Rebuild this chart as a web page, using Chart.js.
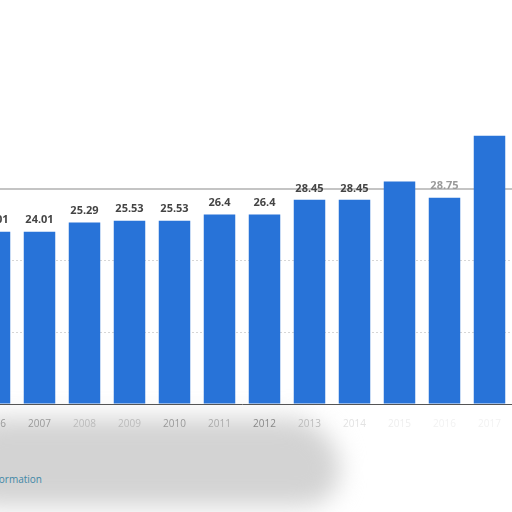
<!DOCTYPE html>
<html>
<head>
<meta charset="utf-8">
<script src="https://cdn.jsdelivr.net/npm/chart.js@4"></script>
<style>
  html, body { margin: 0; padding: 0; background: #fff; overflow: hidden; }
  body { width: 512px; height: 512px; position: relative; }
  #wrap { position: absolute; left: -28px; top: 0; width: 540px; height: 512px; }
  #smudge { position: absolute; left: -30px; top: 418px; width: 370px; height: 88px;
    background: #d3d3d3; border-radius: 30px 60px 40px 20px; filter: blur(12px); }
  #more { position: absolute; right: 470px; top: 472px; white-space: nowrap;
    font: 10px "Open Sans", sans-serif; color: #3f87a6; }
</style>
</head>
<body>
<div id="smudge"></div>
<div id="more">Additional Information</div>
<div id="wrap"><canvas id="priceChart"></canvas></div>
<script>
const years = ['2006', '2007', '2008', '2009', '2010', '2011', '2012', '2013', '2014', '2015', '2016', '2017'];
const prices = [24.01, 24.01, 25.29, 25.53, 25.53, 26.4, 26.4, 28.45, 28.45, 31.0, 28.75, 37.4];
// labels in the picture: 2015 hidden, 2017 smudged out
const valueLabels = ['24.01', '24.01', '25.29', '25.53', '25.53', '26.4', '26.4', '28.45', '28.45', '', '28.75', ''];
const tickColors = ['#999', '#999', '#bbb', '#bbb', '#999', '#aaa', '#888', '#bbb', '#e2e2e2', '#eee', '#f2f2f2', '#f2f2f2'];

const barLabels = {
  id: 'barLabels',
  afterDatasetsDraw(chart) {
    const ctx = chart.ctx;
    const meta = chart.getDatasetMeta(0);
    ctx.save();
    ctx.font = 'bold 11px "Open Sans", sans-serif';
    ctx.textAlign = 'center';
    ctx.textBaseline = 'bottom';
    meta.data.forEach((bar, i) => {
      ctx.fillStyle = i === 10 ? '#9a9a9a' : '#444';
      ctx.fillText(valueLabels[i], bar.x, bar.y - 6);
    });
    ctx.restore();
  }
};

const ctx = document.getElementById('priceChart').getContext('2d');
new Chart(ctx, {
  type: 'bar',
  data: {
    labels: years,
    datasets: [{ data: prices, backgroundColor: '#2873d8', barPercentage: 0.7, categoryPercentage: 1 }]
  },
  options: {
    responsive: true,
    maintainAspectRatio: false,
    animation: false,
    layout: { padding: { top: 117, left: 0, right: 0, bottom: 0 } },
    plugins: { legend: { display: false }, tooltip: { enabled: false } },
    scales: {
      x: {
        grid: { display: false },
        border: { color: '#555', width: 1 },
        ticks: { color: c => tickColors[c.index], font: { family: 'Open Sans', size: 10 }, padding: 6 },
        afterFit: s => { s.height = 108; }
      },
      y: {
        display: true,
        min: 0, max: 40,
        border: { display: false, dash: c => (c.tick && c.tick.value === 30) ? [] : [2, 2] },
        ticks: { display: false, stepSize: 10 },
        grid: {
          drawTicks: false,
          color: c => c.tick.value === 30 ? '#c4c4c4' : (c.tick.value === 0 || c.tick.value === 40 ? 'rgba(0,0,0,0)' : '#d6d6d6'),
          lineWidth: c => c.tick.value === 30 ? 2 : 1
        },
        afterFit: s => { s.width = 0; }
      }
    }
  },
  plugins: [barLabels]
});
</script>
</body>
</html>
